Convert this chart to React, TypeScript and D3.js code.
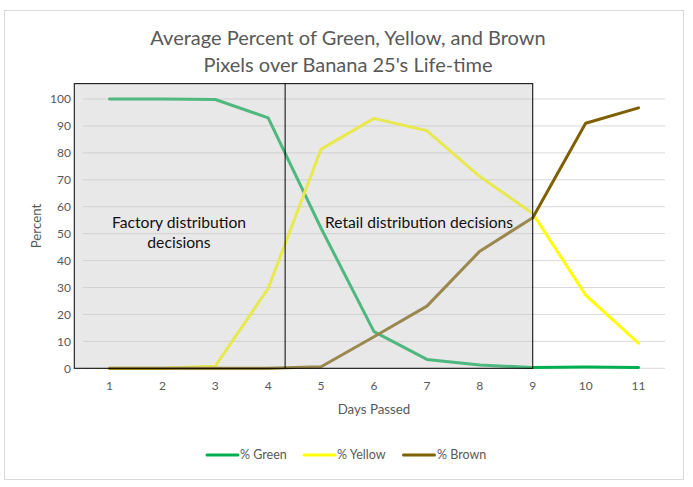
import React from "react";
import * as d3 from "d3";

const days = [1, 2, 3, 4, 5, 6, 7, 8, 9, 10, 11];
const green = [100, 100, 99.8, 93, 52, 13.6, 3.3, 1.2, 0.3, 0.5, 0.3];
const yellow = [0, 0, 0.8, 29.7, 81.4, 92.8, 88.2, 71.2, 57.5, 27.2, 9.3];
const brown = [0, 0, 0, 0, 0.6, 11.7, 23.1, 43.5, 55.9, 91, 96.7];
const yTicks = [0, 10, 20, 30, 40, 50, 60, 70, 80, 90, 100];
const seriesNames = ["% Green", "% Yellow", "% Brown"];
const seriesColors = ["#00b050", "#ffff00", "#7f6000"];
const titleLines = ["Average Percent of Green, Yellow, and Brown", "Pixels over Banana 25's Life-time"];
// annotation box in data units (day, percent)
const boxDays = [0.335, 4.32, 9];
const boxTop = 105.7;
const boxLabels = ["Factory distribution", "decisions"];
const boxLabel2 = "Retail distribution decisions";

const W = 693, H = 487;
const FONT = "Lato, 'Open Sans', sans-serif";

export default function App() {
  const x = d3.scalePoint<number>().domain(days).range([83, 665]).padding(0.5);
  const xl = d3.scaleLinear().domain([0.5, 11.5]).range([83, 665]);
  const y = d3.scaleLinear().domain([0, 100]).range([368.3, 99]);
  const series = [green, yellow, brown];
  const line = d3
    .line<number>()
    .x((_, i) => x(days[i]) as number)
    .y((v) => y(v));

  const legendItems = [
    { lx: 207, tx: 240 },
    { lx: 304, tx: 337 },
    { lx: 403.5, tx: 437 },
  ];

  return (
    <svg
      width={W}
      height={H}
      style={{ position: "fixed", left: 0, top: 0, background: "#fff" }}
      fontFamily={FONT}
    >
      <rect x={0} y={0} width={W} height={H} fill="#fff" />
      <rect x={4.5} y={10.5} width={679} height={469} fill="#fff" stroke="#d9d9d9" strokeWidth={1} />
      {titleLines.map((t, i) => (
        <text key={i} x={348} y={45 + i * 26.5} textAnchor="middle" fontSize={20} fill="#595959">
          {t}
        </text>
      ))}
      {yTicks.map((t) => (
        <g key={t}>
          <line x1={83} x2={665} y1={y(t)} y2={y(t)} stroke="#d9d9d9" strokeWidth={1} />
          <text x={71} y={y(t)} dy="0.35em" textAnchor="end" fontSize={12} fill="#595959">
            {t}
          </text>
        </g>
      ))}
      {days.map((d) => (
        <text key={d} x={x(d)} y={386} dy="0.35em" textAnchor="middle" fontSize={12} fill="#595959">
          {d}
        </text>
      ))}
      <text x={374} y={409} dy="0.35em" textAnchor="middle" fontSize={13.3} fill="#595959">
        Days Passed
      </text>
      <text
        transform={`translate(36,226) rotate(-90)`}
        textAnchor="middle"
        dy="0.35em"
        fontSize={13.3}
        fill="#595959"
      >
        Percent
      </text>
      {series.map((s, i) => (
        <path
          key={i}
          d={line(s) || ""}
          fill="none"
          stroke={seriesColors[i]}
          strokeWidth={3}
          strokeLinejoin="round"
          strokeLinecap="round"
        />
      ))}
      <rect
        x={xl(boxDays[0])}
        y={y(boxTop)}
        width={xl(boxDays[2]) - xl(boxDays[0])}
        height={y(0) - y(boxTop)}
        fill="rgba(197,197,197,0.4)"
        stroke="#000"
        strokeWidth={1}
      />
      <line x1={xl(boxDays[1])} x2={xl(boxDays[1])} y1={y(boxTop)} y2={y(0)} stroke="#000" strokeWidth={1} />
      {boxLabels.map((t, i) => (
        <text key={i} x={179} y={223 + i * 20} dy="0.35em" textAnchor="middle" fontSize={15.7} fill="#111">
          {t}
        </text>
      ))}
      <text x={419} y={223} dy="0.35em" textAnchor="middle" fontSize={15.6} fill="#111">
        {boxLabel2}
      </text>
      {seriesNames.map((n, i) => (
        <g key={n}>
          <line
            x1={legendItems[i].lx}
            x2={legendItems[i].lx + 31}
            y1={455}
            y2={455}
            stroke={seriesColors[i]}
            strokeWidth={3}
            strokeLinecap="round"
          />
          <text x={legendItems[i].tx} y={455} dy="0.35em" fontSize={12.5} fill="#595959">
            {n}
          </text>
        </g>
      ))}
    </svg>
  );
}
